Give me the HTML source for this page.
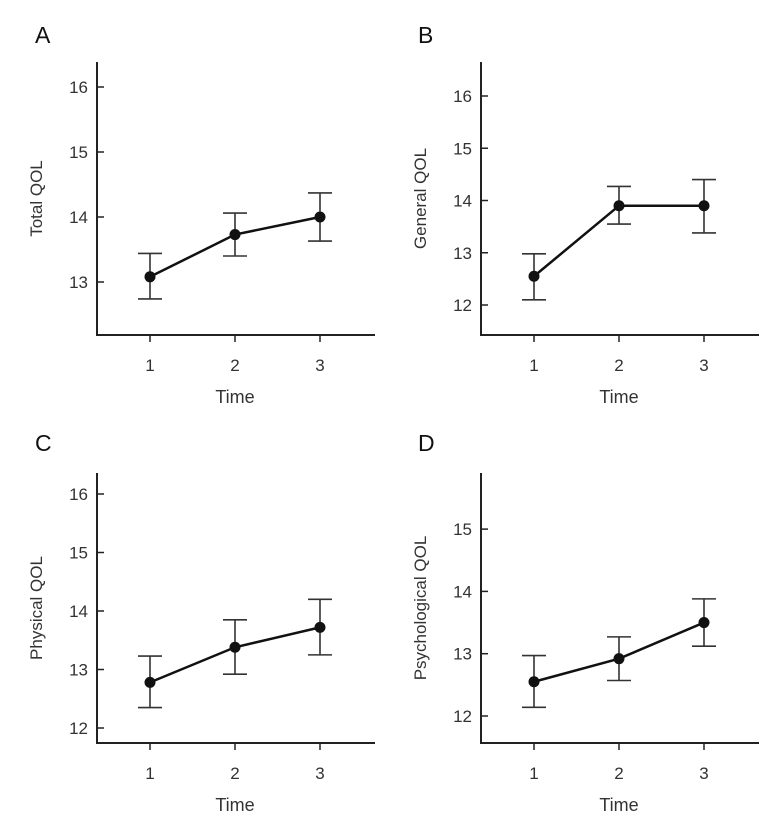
<!DOCTYPE html>
<html><head><meta charset="utf-8"><style>
body{margin:0;background:#fff;width:770px;height:827px;overflow:hidden}
svg{display:block;font-family:"Liberation Sans",sans-serif}
</style></head><body>
<svg id="c" width="770" height="827"></svg>
<script>
const times=[1,2,3];
const totalMean=[13.08,13.73,14.0],totalHi=[13.44,14.06,14.37],totalLo=[12.74,13.40,13.63];
const generalMean=[12.55,13.9,13.9],generalHi=[12.98,14.27,14.40],generalLo=[12.10,13.55,13.38];
const physicalMean=[12.78,13.38,13.72],physicalHi=[13.23,13.85,14.20],physicalLo=[12.35,12.92,13.25];
const psychMean=[12.55,12.92,13.50],psychHi=[12.97,13.27,13.88],psychLo=[12.14,12.57,13.12];
const totalTicks=[13,14,15,16],generalTicks=[12,13,14,15,16],physicalTicks=[12,13,14,15,16],psychTicks=[12,13,14,15];
const panels=[
 {id:'a',letter:'A',title:'Total QOL',mean:totalMean,hi:totalHi,lo:totalLo,ticks:totalTicks,ax:97,top:62,bot:335,v0:13,y0:282,k:65,lx:35,ly:35},
 {id:'b',letter:'B',title:'General QOL',mean:generalMean,hi:generalHi,lo:generalLo,ticks:generalTicks,ax:481,top:62,bot:335,v0:12,y0:305,k:52.25,lx:418,ly:35},
 {id:'c',letter:'C',title:'Physical QOL',mean:physicalMean,hi:physicalHi,lo:physicalLo,ticks:physicalTicks,ax:97,top:473,bot:743,v0:12,y0:728,k:58.5,lx:35,ly:443},
 {id:'d',letter:'D',title:'Psychological QOL',mean:psychMean,hi:psychHi,lo:psychLo,ticks:psychTicks,ax:481,top:473,bot:743,v0:12,y0:716,k:62.3,lx:418,ly:443}
];
const svg=document.getElementById('c'),NS='http://www.w3.org/2000/svg';
function mk(t,a,p){const e=document.createElementNS(NS,t);for(const k in a)e.setAttribute(k,a[k]);(p||svg).appendChild(e);return e;}
panels.forEach(P=>{
 const g=mk('g',{});
 
 
 const y=v=>P.y0-(v-P.v0)*P.k;
 const x=t=>P.ax+53+(t-1)*85;
 const L=mk('text',{x:P.lx,y:P.ly+8,'font-size':23,fill:'#111'},g);L.textContent=P.letter;
 
 
 const ya=mk('line',{x1:P.ax,y1:P.top,x2:P.ax,y2:P.bot,stroke:'#222','stroke-width':2},g);
 
 
 const xa=mk('line',{x1:P.ax-1,y1:P.bot,x2:P.ax+278,y2:P.bot,stroke:'#222','stroke-width':2},g);
 
 
 P.ticks.forEach(v=>{
  mk('line',{x1:P.ax,y1:y(v),x2:P.ax+7,y2:y(v),stroke:'#222','stroke-width':1.5},g);
  const t=mk('text',{x:P.ax-9,y:y(v)+6,'font-size':17,fill:'#333','text-anchor':'end'},g);t.textContent=v;
  
  
 });
 times.forEach(t=>{
  mk('line',{x1:x(t),y1:P.bot,x2:x(t),y2:P.bot+7,stroke:'#222','stroke-width':1.5},g);
  const tl=mk('text',{x:x(t),y:P.bot+36,'font-size':17,fill:'#333','text-anchor':'middle'},g);tl.textContent=t;
  
  
 });
 const xt=mk('text',{x:x(2),y:P.bot+68,'font-size':18,fill:'#333','text-anchor':'middle'},g);xt.textContent='Time';
 
 
 const cy=(P.top+P.bot)/2;
 const yt=mk('text',{x:P.ax-55,y:cy,'font-size':17,fill:'#333','text-anchor':'middle',transform:`rotate(-90 ${P.ax-55} ${cy})`},g);yt.textContent=P.title;
 
 
 times.forEach((t,i)=>{
  const eb=mk('path',{d:`M${x(t)} ${y(P.hi[i])}V${y(P.lo[i])}M${x(t)-12} ${y(P.hi[i])}H${x(t)+12}M${x(t)-12} ${y(P.lo[i])}H${x(t)+12}`,stroke:'#333','stroke-width':1.6,fill:'none'},g);
  
  
 });
 const ln=mk('polyline',{points:times.map((t,i)=>x(t)+','+y(P.mean[i])).join(' '),stroke:'#111','stroke-width':2.5,fill:'none'},g);
 
 
 times.forEach((t,i)=>{
  const c=mk('circle',{cx:x(t),cy:y(P.mean[i]),r:5.5,fill:'#111'},g);
  
  
 });
});
</script>
</body></html>
